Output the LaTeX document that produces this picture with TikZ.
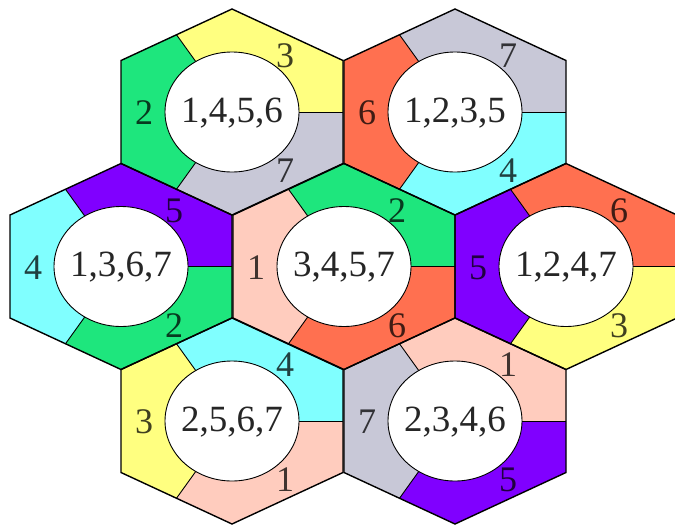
\documentclass[tikz,border=0pt]{standalone}
\usepackage{fontspec}
\setmainfont{Liberation Serif}
\definecolor{col1}{RGB}{255,204,190}
\definecolor{col2}{RGB}{30,230,125}
\definecolor{col3}{RGB}{255,255,128}
\definecolor{col4}{RGB}{128,255,255}
\definecolor{col5}{RGB}{128,0,255}
\definecolor{col6}{RGB}{255,112,80}
\definecolor{col7}{RGB}{200,200,215}
\tikzset{
  hexedge/.style={draw=black, line width=1.4pt, line join=miter},
  divline/.style={draw=black, line width=0.9pt},
  hole/.style={draw=black, line width=0.9pt, fill=white},
  numlab/.style={font=\fontsize{36}{36}\selectfont, inner sep=0pt},
  setlab/.style={font=\fontsize{37}{37}\selectfont, inner sep=0pt, text=black!85}
}
% #1 cx, #2 cy, #3 name, #4 left, #5 upper right, #6 lower right, #7 centre text
\newcommand\hexfill[7]{%
  \begin{scope}[shift={(#1,#2)}]
    \fill[col#4] (0,0) -- (-55.5,-77.25) -- (-111,-51.5) -- (-111,51.5) -- (-55.5,77.25) -- cycle;
    \fill[col#5] (0,0) -- (-55.5,-77.25) -- (0,-103) -- (111,-51.5) -- (111,0) -- cycle;
    \fill[col#6] (0,0) -- (111,0) -- (111,51.5) -- (0,103) -- (-55.5,77.25) -- cycle;
    \draw[divline] (0,0) -- (-55.5,-77.25);
    \draw[divline] (0,0) -- (111,0);
    \draw[divline] (0,0) -- (-55.5,77.25);
    \draw[hole] (0,0) ellipse [x radius=67, y radius=60];
    \node[setlab] (#3c) at (0,1) {#7};
    \node[numlab, text=col#4!25!black] (#3l) at (-88,1) {#4};
    \node[numlab, text=col#5!25!black] (#3u) at (53,-56) {#5};
    \node[numlab, text=col#6!25!black] (#3d) at (53,59) {#6};
  \end{scope}}
\newcommand\hexline[2]{%
  \draw[hexedge, shift={(#1,#2)}] (0,-103) -- (111,-51.5) -- (111,51.5) -- (0,103) -- (-111,51.5) -- (-111,-51.5) -- cycle;}
\begin{document}
\begin{tikzpicture}[x=1pt,y=-1pt]
\useasboundingbox (0,0) rectangle (675,528);
\fill[white] (0,0) rectangle (675,528);
\hexfill{232}{112}{tl}{2}{3}{7}{1,4,5,6}
\hexfill{455}{112}{tr}{6}{7}{4}{1,2,3,5}
\hexfill{121}{266.5}{ml}{4}{5}{2}{1,3,6,7}
\hexfill{344}{266.5}{mm}{1}{2}{6}{3,4,5,7}
\hexfill{566}{266.5}{mr}{5}{6}{3}{1,2,4,7}
\hexfill{232}{421}{bl}{3}{4}{1}{2,5,6,7}
\hexfill{455}{421}{br}{7}{1}{5}{2,3,4,6}
\hexline{232}{112}
\hexline{455}{112}
\hexline{121}{266.5}
\hexline{344}{266.5}
\hexline{566}{266.5}
\hexline{232}{421}
\hexline{455}{421}
\end{tikzpicture}
\end{document}
